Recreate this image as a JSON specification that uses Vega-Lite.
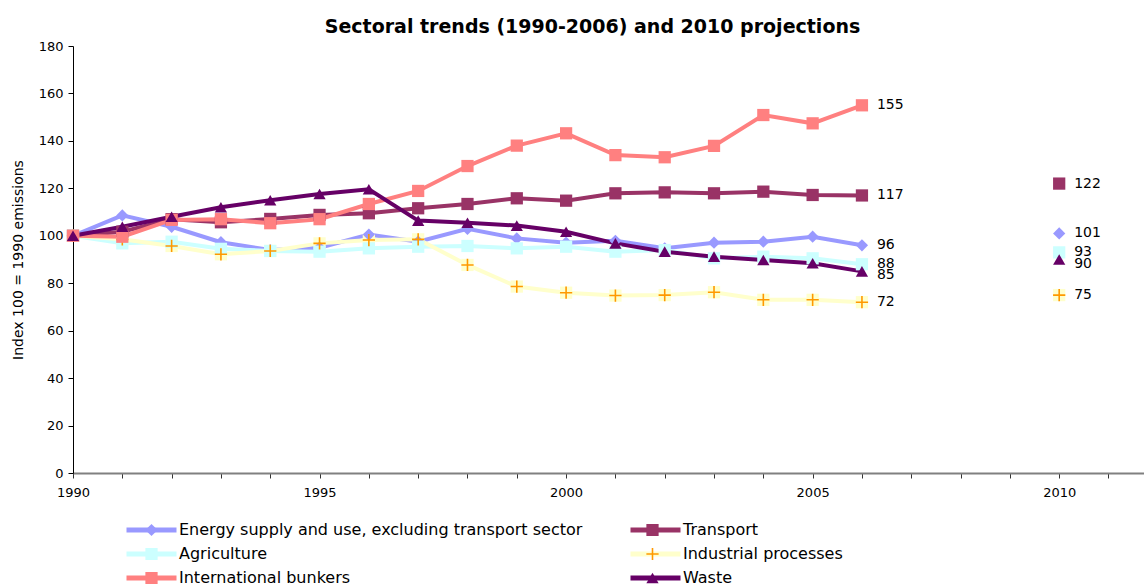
{
  "$schema": "https://vega.github.io/schema/vega-lite/v6.json",
  "width": 1071,
  "height": 427,
  "autosize": {"type": "none"},
  "padding": {"left": 73, "top": 46, "right": 0, "bottom": 115},
  "background": "white",
  "config": {
    "view": {"stroke": null},
    "font": "DejaVu Sans",
    "axis": {"labelFont": "DejaVu Sans", "titleFont": "DejaVu Sans", "labelColor": "black", "titleColor": "black"}
  },
  "title": {
    "text": "Sectoral trends (1990-2006) and 2010 projections",
    "font": "DejaVu Sans",
    "fontSize": 19,
    "fontWeight": "bold",
    "color": "black",
    "anchor": "middle",
    "dx": -16,
    "offset": 3
  },
  "data": {
    "values": [
      {"sector": "Energy supply and use, excluding transport sector", "year": 1990, "value": 100},
      {"sector": "Energy supply and use, excluding transport sector", "year": 1991, "value": 108.6},
      {"sector": "Energy supply and use, excluding transport sector", "year": 1992, "value": 103.8},
      {"sector": "Energy supply and use, excluding transport sector", "year": 1993, "value": 97.3},
      {"sector": "Energy supply and use, excluding transport sector", "year": 1994, "value": 94},
      {"sector": "Energy supply and use, excluding transport sector", "year": 1995, "value": 95},
      {"sector": "Energy supply and use, excluding transport sector", "year": 1996, "value": 100.5},
      {"sector": "Energy supply and use, excluding transport sector", "year": 1997, "value": 97.5},
      {"sector": "Energy supply and use, excluding transport sector", "year": 1998, "value": 102.9},
      {"sector": "Energy supply and use, excluding transport sector", "year": 1999, "value": 98.9},
      {"sector": "Energy supply and use, excluding transport sector", "year": 2000, "value": 97.1},
      {"sector": "Energy supply and use, excluding transport sector", "year": 2001, "value": 97.9},
      {"sector": "Energy supply and use, excluding transport sector", "year": 2002, "value": 94.7},
      {"sector": "Energy supply and use, excluding transport sector", "year": 2003, "value": 97.1},
      {"sector": "Energy supply and use, excluding transport sector", "year": 2004, "value": 97.5},
      {"sector": "Energy supply and use, excluding transport sector", "year": 2005, "value": 99.6},
      {"sector": "Energy supply and use, excluding transport sector", "year": 2006, "value": 96},
      {"sector": "Energy supply and use, excluding transport sector", "year": 2010, "value": 101},
      {"sector": "Transport", "year": 1990, "value": 100},
      {"sector": "Transport", "year": 1991, "value": 101.7},
      {"sector": "Transport", "year": 1992, "value": 107},
      {"sector": "Transport", "year": 1993, "value": 105.7},
      {"sector": "Transport", "year": 1994, "value": 107.1},
      {"sector": "Transport", "year": 1995, "value": 108.8},
      {"sector": "Transport", "year": 1996, "value": 109.5},
      {"sector": "Transport", "year": 1997, "value": 111.6},
      {"sector": "Transport", "year": 1998, "value": 113.4},
      {"sector": "Transport", "year": 1999, "value": 115.8},
      {"sector": "Transport", "year": 2000, "value": 114.8},
      {"sector": "Transport", "year": 2001, "value": 117.9},
      {"sector": "Transport", "year": 2002, "value": 118.3},
      {"sector": "Transport", "year": 2003, "value": 117.9},
      {"sector": "Transport", "year": 2004, "value": 118.6},
      {"sector": "Transport", "year": 2005, "value": 117.2},
      {"sector": "Transport", "year": 2006, "value": 117},
      {"sector": "Transport", "year": 2010, "value": 122},
      {"sector": "Agriculture", "year": 1990, "value": 100},
      {"sector": "Agriculture", "year": 1991, "value": 96.8},
      {"sector": "Agriculture", "year": 1992, "value": 97.5},
      {"sector": "Agriculture", "year": 1993, "value": 94.5},
      {"sector": "Agriculture", "year": 1994, "value": 93.6},
      {"sector": "Agriculture", "year": 1995, "value": 93.3},
      {"sector": "Agriculture", "year": 1996, "value": 94.7},
      {"sector": "Agriculture", "year": 1997, "value": 95.4},
      {"sector": "Agriculture", "year": 1998, "value": 95.7},
      {"sector": "Agriculture", "year": 1999, "value": 94.7},
      {"sector": "Agriculture", "year": 2000, "value": 95.4},
      {"sector": "Agriculture", "year": 2001, "value": 93.3},
      {"sector": "Agriculture", "year": 2002, "value": 94},
      {"sector": "Agriculture", "year": 2003, "value": 90.5},
      {"sector": "Agriculture", "year": 2004, "value": 91.2},
      {"sector": "Agriculture", "year": 2005, "value": 90.5},
      {"sector": "Agriculture", "year": 2006, "value": 88},
      {"sector": "Agriculture", "year": 2010, "value": 93},
      {"sector": "Industrial processes", "year": 1990, "value": 100},
      {"sector": "Industrial processes", "year": 1991, "value": 98.5},
      {"sector": "Industrial processes", "year": 1992, "value": 95.7},
      {"sector": "Industrial processes", "year": 1993, "value": 92.2},
      {"sector": "Industrial processes", "year": 1994, "value": 93.6},
      {"sector": "Industrial processes", "year": 1995, "value": 96.8},
      {"sector": "Industrial processes", "year": 1996, "value": 98.2},
      {"sector": "Industrial processes", "year": 1997, "value": 98.5},
      {"sector": "Industrial processes", "year": 1998, "value": 87.7},
      {"sector": "Industrial processes", "year": 1999, "value": 78.6},
      {"sector": "Industrial processes", "year": 2000, "value": 76},
      {"sector": "Industrial processes", "year": 2001, "value": 74.8},
      {"sector": "Industrial processes", "year": 2002, "value": 75},
      {"sector": "Industrial processes", "year": 2003, "value": 76.2},
      {"sector": "Industrial processes", "year": 2004, "value": 73},
      {"sector": "Industrial processes", "year": 2005, "value": 73},
      {"sector": "Industrial processes", "year": 2006, "value": 72},
      {"sector": "Industrial processes", "year": 2010, "value": 75},
      {"sector": "International bunkers", "year": 1990, "value": 100},
      {"sector": "International bunkers", "year": 1991, "value": 99.6},
      {"sector": "International bunkers", "year": 1992, "value": 106.7},
      {"sector": "International bunkers", "year": 1993, "value": 107},
      {"sector": "International bunkers", "year": 1994, "value": 105.3},
      {"sector": "International bunkers", "year": 1995, "value": 107},
      {"sector": "International bunkers", "year": 1996, "value": 113.4},
      {"sector": "International bunkers", "year": 1997, "value": 118.9},
      {"sector": "International bunkers", "year": 1998, "value": 129.4},
      {"sector": "International bunkers", "year": 1999, "value": 138},
      {"sector": "International bunkers", "year": 2000, "value": 143.2},
      {"sector": "International bunkers", "year": 2001, "value": 134},
      {"sector": "International bunkers", "year": 2002, "value": 133.1},
      {"sector": "International bunkers", "year": 2003, "value": 137.9},
      {"sector": "International bunkers", "year": 2004, "value": 150.9},
      {"sector": "International bunkers", "year": 2005, "value": 147.4},
      {"sector": "International bunkers", "year": 2006, "value": 155},
      {"sector": "Waste", "year": 1990, "value": 100},
      {"sector": "Waste", "year": 1991, "value": 103.8},
      {"sector": "Waste", "year": 1992, "value": 108},
      {"sector": "Waste", "year": 1993, "value": 112},
      {"sector": "Waste", "year": 1994, "value": 115},
      {"sector": "Waste", "year": 1995, "value": 117.6},
      {"sector": "Waste", "year": 1996, "value": 119.6},
      {"sector": "Waste", "year": 1997, "value": 106.4},
      {"sector": "Waste", "year": 1998, "value": 105.5},
      {"sector": "Waste", "year": 1999, "value": 104.3},
      {"sector": "Waste", "year": 2000, "value": 101.7},
      {"sector": "Waste", "year": 2001, "value": 96.8},
      {"sector": "Waste", "year": 2002, "value": 93.3},
      {"sector": "Waste", "year": 2003, "value": 91.2},
      {"sector": "Waste", "year": 2004, "value": 89.8},
      {"sector": "Waste", "year": 2005, "value": 88.4},
      {"sector": "Waste", "year": 2006, "value": 85},
      {"sector": "Waste", "year": 2010, "value": 90}
    ]
  },
  "encoding": {
    "x": {
      "field": "year",
      "type": "quantitative",
      "scale": {"domain": [1990, 2011.72], "nice": false, "zero": false},
      "axis": {
        "title": null,
        "values": [1990,1991,1992,1993,1994,1995,1996,1997,1998,1999,2000,2001,2002,2003,2004,2005,2006,2007,2008,2009,2010,2011],
        "labelExpr": "datum.value % 5 === 0 ? datum.label : ''",
        "format": "d",
        "grid": false,
        "domainColor": "#808080",
        "domainWidth": 2,
        "tickColor": "#333333",
        "tickSize": 5,
        "labelFontSize": 13,
        "labelPadding": 8,
        "labelFlush": false,
        "labelOverlap": false
      }
    },
    "y": {
      "field": "value",
      "type": "quantitative",
      "scale": {"domain": [0, 180], "nice": false},
      "axis": {
        "title": "Index 100 = 1990 emissions",
        "titleFontSize": 14,
        "titleFontWeight": "normal",
        "titlePadding": 13,
        "values": [0,20,40,60,80,100,120,140,160,180],
        "grid": false,
        "domainColor": "black",
        "tickColor": "black",
        "tickSize": 5,
        "labelFontSize": 13,
        "labelPadding": 5
      }
    }
  },
  "layer": [
    {
      "transform": [{"filter": "datum.year <= 2006"}],
      "mark": {"type": "line", "strokeWidth": 4},
      "encoding": {
        "stroke": {
          "field": "sector",
          "type": "nominal",
          "sort": ["Energy supply and use, excluding transport sector", "Transport", "Agriculture", "Industrial processes", "International bunkers", "Waste"],
          "scale": {"range": ["#9999FF", "#993366", "#CCFFFF", "#FFFFCC", "#FF8080", "#660066"]},
          "legend": {
            "orient": "none",
            "direction": "horizontal",
            "legendX": 51,
            "legendY": 474,
            "columns": 2,
            "title": null,
            "padding": 0,
            "symbolType": "stroke",
            "symbolSize": 2500,
            "symbolStrokeWidth": 5,
            "clipHeight": 20,
            "rowPadding": 4,
            "columnPadding": 45,
            "labelOffset": 0,
            "labelFont": "DejaVu Sans",
            "labelFontSize": 16,
            "labelColor": "black",
            "labelLimit": 0
          }
        }
      }
    },
    {
      "transform": [{"filter": "datum.sector === 'Industrial processes'"}],
      "mark": {"type": "point", "shape": "square", "filled": true, "opacity": 1, "size": 150, "color": "#FFFFCC"},
      "encoding": {}
    },
    {
      "mark": {"type": "point", "filled": true, "opacity": 1, "strokeWidth": 0},
      "encoding": {
        "shape": {
          "field": "sector",
          "type": "nominal",
          "scale": {
            "domain": ["Energy supply and use, excluding transport sector", "Transport", "Agriculture", "Industrial processes", "International bunkers", "Waste"],
            "range": ["diamond", "square", "square", "M-1,-0.13H1V0.13H-1Z M-0.13,-1H0.13V1H-0.13Z", "square", "triangle-up"]
          },
          "legend": {
            "orient": "none",
            "direction": "horizontal",
            "legendX": 70.5,
            "legendY": 474,
            "columns": 2,
            "title": null,
            "padding": 0,
            "symbolSize": 150,
            "symbolStrokeWidth": 0,
            "clipHeight": 20,
            "rowPadding": 4,
            "columnPadding": 62,
            "labelOffset": 19.5,
            "labelFont": "DejaVu Sans",
            "labelFontSize": 16,
            "labelColor": "transparent",
            "labelLimit": 0
          }
        },
        "fill": {
          "field": "sector",
          "type": "nominal",
          "scale": {
            "domain": ["Energy supply and use, excluding transport sector", "Transport", "Agriculture", "Industrial processes", "International bunkers", "Waste"],
            "range": ["#9999FF", "#993366", "#CCFFFF", "#FF9900", "#FF8080", "#660066"]
          },
          "legend": {
            "orient": "none",
            "direction": "horizontal",
            "legendX": 70.5,
            "legendY": 474,
            "columns": 2,
            "title": null,
            "padding": 0,
            "symbolSize": 150,
            "symbolStrokeWidth": 0,
            "clipHeight": 20,
            "rowPadding": 4,
            "columnPadding": 62,
            "labelOffset": 19.5,
            "labelFont": "DejaVu Sans",
            "labelFontSize": 16,
            "labelColor": "transparent",
            "labelLimit": 0
          }
        },
        "size": {"value": 150}
      }
    },
    {
      "transform": [{"filter": "datum.year >= 2006 && datum.sector !== 'Waste'"}],
      "mark": {"type": "text", "align": "left", "baseline": "middle", "dx": 15, "fontSize": 14, "font": "DejaVu Sans", "color": "black"},
      "encoding": {"text": {"field": "value", "type": "quantitative", "format": ".0f"}}
    },
    {
      "transform": [{"filter": "datum.year >= 2006 && datum.sector === 'Waste'"}],
      "mark": {"type": "text", "align": "left", "baseline": "middle", "dx": 15, "dy": 4, "fontSize": 14, "font": "DejaVu Sans", "color": "black"},
      "encoding": {"text": {"field": "value", "type": "quantitative", "format": ".0f"}}
    }
  ]
}
